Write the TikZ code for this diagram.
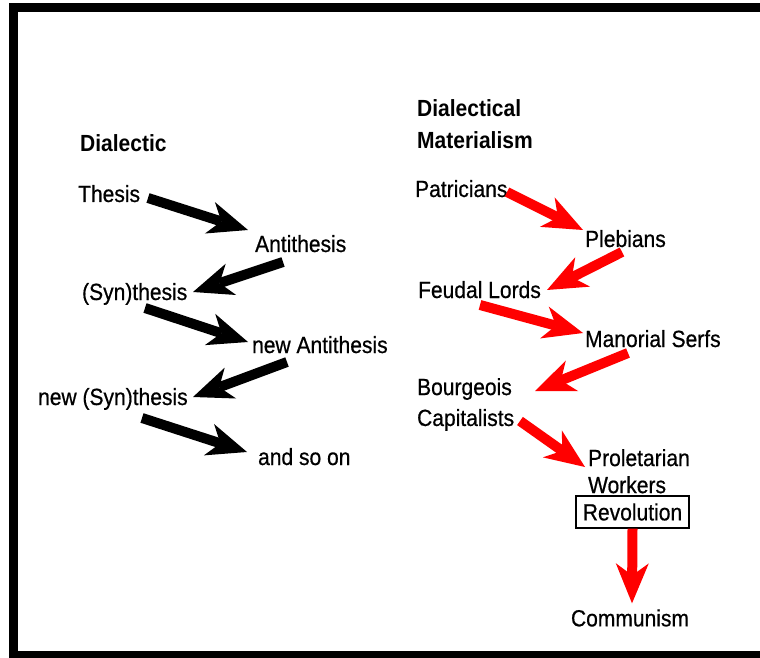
\documentclass[tikz,border=0pt]{standalone}
\usepackage{fontspec}
\setmainfont{Liberation Sans}
\newfontfamily\lblfont{Liberation Sans}[FakeStretch=0.9, FakeBold=0.6]
\newfontfamily\hdfont{Liberation Sans}[FakeStretch=0.9]
\usetikzlibrary{arrows.meta}

\tikzset{
  lbl/.style={anchor=base west, inner sep=1pt, font=\lblfont\fontsize{13.3}{15}\selectfont},
  hd/.style={lbl, font=\hdfont\bfseries\fontsize{13.3}{18.2}\selectfont},
  twoline/.style={align=left, anchor=north west},
  blk/.style={line width=0.2cm, -{Stealth[length=0.8cm, width=0.66cm, inset=0.24cm, line width=0pt]}},
  redblk/.style={blk, red}
}

\begin{document}
\begin{tikzpicture}[x=0.02cm, y=-0.02cm]
  \useasboundingbox (0,0) rectangle (760,658);
  % frame, open on the right
  \draw[line width=0.18cm] (13.5,8) rectangle (800,655);

  % dialectic
  \node[hd] (dia) at (78,152) {Dialectic};
  \node[lbl] (thesis) at (76,202) {Thesis};
  \node[lbl] (anti) at (253,252) {Antithesis};
  \node[lbl] (syn) at (80,300) {(Syn)thesis};
  \node[lbl] (nanti) at (250,353) {new Antithesis};
  \node[lbl] (nsyn) at (36,405) {new (Syn)thesis};
  \node[lbl] (soon) at (256,465) {and so on};

  \draw[blk] ([shift={(72,-4)}]thesis.base west) -- ([shift={(-5,-22)}]anti.base west);
  \draw[blk] ([shift={(30,10)}]anti.base west) -- ([shift={(113,-8)}]syn.base west);
  \draw[blk] ([shift={(65,8)}]syn.base west) -- ([shift={(-2,-11)}]nanti.base west);
  \draw[blk] ([shift={(37,9)}]nanti.base west) -- ([shift={(157,-8)}]nsyn.base west);
  \draw[blk] ([shift={(106,13)}]nsyn.base west) -- ([shift={(-9,-13)}]soon.base west);

  % dialectical materialism
  \node[hd, twoline] (dmat) at (415,97) {Dialectical\\Materialism};
  \node[lbl] (pat) at (413,197) {Patricians};
  \node[lbl] (pleb) at (583,247) {Plebians};
  \node[lbl] (feud) at (416,298) {Feudal Lords};
  \node[lbl] (mano) at (583,347) {Manorial Serfs};
  \node[lbl, twoline, font=\lblfont\fontsize{13.3}{17.6}\selectfont] (bour) at (415,376) {Bourgeois\\Capitalists};
  \node[lbl, twoline, font=\lblfont\fontsize{13.3}{15.4}\selectfont] (prol) at (586,447) {Proletarian\\Workers};
  \node[draw, line width=0.8pt, inner sep=1pt, minimum width=2.26cm, minimum height=0.64cm,
        font=\lblfont\fontsize{13.3}{15}\selectfont] (rev) at (632.5,512) {Revolution};
  \node[lbl, anchor=center] (comm) at (630,618) {Communism};

  \draw[redblk] ([shift={(94,-5)}]pat.base west) -- ([shift={(0,-17)}]pleb.base west);
  \draw[redblk] ([shift={(39,5)}]pleb.base west) -- ([shift={(131,-8)}]feud.base west);
  \draw[redblk] ([shift={(64,7)}]feud.base west) -- ([shift={(0,-14)}]mano.base west);
  \draw[redblk] ([shift={(45,6)}]mano.base west) -- ([shift={(120,15)}]bour.north west);
  \draw[redblk] ([shift={(105,45)}]bour.north west) -- ([shift={(-1,20)}]prol.north west);
  \draw[redblk] (rev.south) -- ([shift={(2,-4)}]comm.north);
\end{tikzpicture}
\end{document}
